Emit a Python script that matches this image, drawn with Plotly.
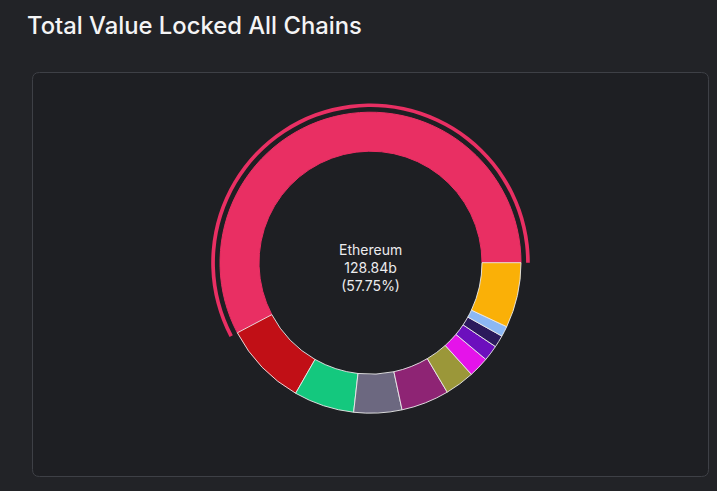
import plotly.graph_objects as go

# ---- data ----
chains = ["Ethereum", "BSC", "Terra", "Avalanche", "Solana", "Fantom",
          "Polygon", "Tron", "Arbitrum", "Cronos", "Others"]
tvl_b = [128.84, 20.1, 14.5, 11.5, 11.5, 7.1, 4.9, 3.8, 2.9, 2.5, 15.6]
colors = ["#e92f63", "#c10f16", "#14c87e", "#6c6880", "#8e2474", "#9b9739",
          "#e513ea", "#6c0fbd", "#2b1a5c", "#8cb8f5", "#fab007"]
highlight = "Ethereum"
center_label = "Ethereum"
center_value = "128.84b"
center_pct = "(57.75%)"
title = "Total Value Locked All Chains"

W, H = 717, 491
PAGE_BG = "#222327"
CARD_BG = "#1e1f23"

# geometry (px)
cx, cy = 370.5, 262.7
R = 150.5
R_arc_out, R_arc_in = 159.3, 155.6

# plotly's counterclockwise pies end the first slice at `rotation`;
# shift so the first slice starts at 3 o'clock
first_share = tvl_b[0] / sum(tvl_b)
rot = 90 - 360 * first_share


def dom(r):
    return dict(x=[(cx - r) / W, (cx + r) / W],
                y=[(H - cy - r) / H, (H - cy + r) / H])


line_colors = [colors[i] if c == highlight else "rgba(235,235,235,0.9)"
               for i, c in enumerate(chains)]

fig = go.Figure()
fig.add_trace(go.Pie(
    labels=chains, values=tvl_b, sort=False, direction="counterclockwise",
    rotation=rot, hole=111.5 / R, domain=dom(R),
    marker=dict(colors=colors, line=dict(color=line_colors, width=1)),
    textinfo="none", showlegend=False,
    hovertemplate="%{label}<br>%{value:.2f}b<br>(%{percent})<extra></extra>",
))
arc_colors = [colors[i] if c == highlight else "rgba(0,0,0,0)"
              for i, c in enumerate(chains)]
fig.add_trace(go.Pie(
    labels=chains, values=tvl_b, sort=False, direction="counterclockwise",
    rotation=rot, hole=R_arc_in / R_arc_out, domain=dom(R_arc_out),
    marker=dict(colors=arc_colors, line=dict(width=0)),
    textinfo="none", showlegend=False, hoverinfo="skip",
))

# rounded card
x0, y0, x1, y1, rr = 32.5, 72.5, 708.5, 476.5, 7


def px(x):
    return x / W


def py(y):
    return 1 - y / H


path = (f"M {px(x0+rr)},{py(y0)} L {px(x1-rr)},{py(y0)} "
        f"Q {px(x1)},{py(y0)} {px(x1)},{py(y0+rr)} L {px(x1)},{py(y1-rr)} "
        f"Q {px(x1)},{py(y1)} {px(x1-rr)},{py(y1)} L {px(x0+rr)},{py(y1)} "
        f"Q {px(x0)},{py(y1)} {px(x0)},{py(y1-rr)} L {px(x0)},{py(y0+rr)} "
        f"Q {px(x0)},{py(y0)} {px(x0+rr)},{py(y0)} Z")

fig.update_layout(
    width=W, height=H, margin=dict(l=0, r=0, t=0, b=0),
    paper_bgcolor=PAGE_BG, plot_bgcolor=PAGE_BG,
    shapes=[dict(type="path", xref="paper", yref="paper", path=path,
                 fillcolor=CARD_BG, line=dict(color="#3e4046", width=1),
                 layer="below")],
    annotations=[
        dict(text=title, x=25 / W, y=1 - 26 / H, xref="paper", yref="paper",
             xanchor="left", yanchor="middle", showarrow=False,
             font=dict(family="Inter", size=23.8, color="#f4f4f5", weight=500)),
        dict(text=f"{center_label}<br>{center_value}<br>{center_pct}",
             x=cx / W, y=1 - (cy + 4.5) / H, xref="paper", yref="paper",
             xanchor="center", yanchor="middle", showarrow=False,
             align="center",
             font=dict(family="Inter", size=14, color="#ececee")),
    ],
)

fig.write_html("out.html")
